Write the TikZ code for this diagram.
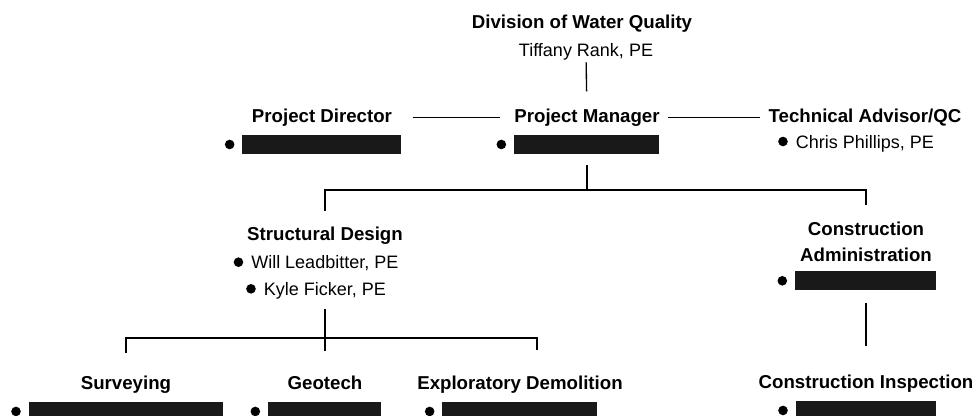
\documentclass[tikz,border=0pt]{standalone}
\usepackage{fontspec}
\setmainfont{Liberation Sans}
\usetikzlibrary{positioning}

% bullet, named member, blacked-out member
\newcommand{\dotmark}{\tikz[baseline=-5pt]\fill (0,0) circle (3.6pt);\hspace{6pt}}
\newcommand{\member}[1]{\dotmark#1}
\newcommand{\blackbar}[1]{\dotmark{\color{black!90}\rule[-2.25pt]{#1}{14.25pt}}}

\begin{document}
\begin{tikzpicture}[x=0.75pt, y=-0.75pt, line width=1pt, node distance=6pt,
    role/.style={font=\fontsize{14}{19.5}\selectfont\bfseries, align=center, inner sep=0pt, text depth=3pt, anchor=north},
    staff/.style={font=\fontsize{13.5}{20}\selectfont, align=center, inner sep=0pt},
    crew/.style={staff, xshift=-6.75pt}]
  \useasboundingbox (0,0) rectangle (976,415);

  % top level
  \node (dwq) [role] at (582,14) {Division of Water Quality};
  \node (tiffany) [staff, below=7.5pt of dwq, xshift=3pt] {Tiffany Rank, PE};

  \node (pd) [role] at (322,108) {Project Director};
  \node (pdcrew) [crew, below=of pd] {\blackbar{119pt}};
  \node (pm) [role] at (587,108) {Project Manager};
  \node (pmcrew) [crew, below=of pm] {\blackbar{109pt}};
  \node (ta) [role] at (865,108) {Technical Advisor/QC};
  \node (tacrew) [crew, below=of ta] {\member{Chris Phillips, PE}};

  % middle level
  \node (sd) [role] at (325,226) {Structural Design};
  \node (sdcrew) [crew, below=8pt of sd] {\member{Will Leadbitter, PE}\\\member{Kyle Ficker, PE}};
  \node (ca) [role] at (866,221) {Construction\\Administration};
  \node (cacrew) [crew, below=4pt of ca] {\blackbar{106pt}};

  % bottom level
  \node (surv) [role] at (126,375) {Surveying};
  \node (survcrew) [crew, below=of surv] {\blackbar{145.5pt}};
  \node (geo) [role] at (325,375) {Geotech};
  \node (geocrew) [crew, below=of geo] {\blackbar{85pt}};
  \node (expl) [role] at (520,375) {Exploratory Demolition};
  \node (explcrew) [crew, below=of expl] {\blackbar{116pt}};
  \node (ci) [role] at (866,374) {Construction Inspection};
  \node (cicrew) [crew, below=of ci] {\blackbar{105pt}};

  % connectors
  \coordinate (hub) at (587,190);
  \coordinate (lowhub) at (325,338);
  \coordinate (explknee) at (537,350);

  \draw[shorten <=1pt, shorten >=12.5pt] (tiffany) -- (pm);
  \draw[shorten <=15pt, shorten >=10.5pt] (pd) -- (pm);
  \draw[shorten <=6pt, shorten >=6pt] (pm) -- (ta);
  \draw[shorten <=8.25pt] (pm |- pmcrew.south) -- (hub);
  \draw[shorten <=11.25pt, shorten >=12pt] (sd) |- (hub) -| (ca);
  \draw[shorten <=6.75pt, shorten >=18pt] (sd |- sdcrew.south) -- (geo);
  \draw[shorten <=16.5pt] (surv) |- (lowhub) -| (explknee);
  \draw[shorten <=9pt, shorten >=21pt] (ca |- cacrew.south) -- (ci);
\end{tikzpicture}
\end{document}
